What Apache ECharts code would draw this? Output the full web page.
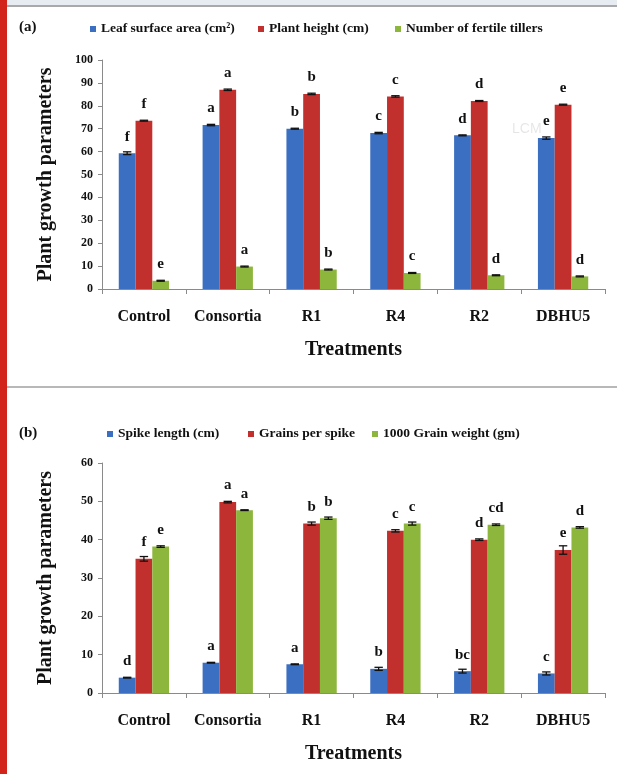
<!DOCTYPE html>
<html>
<head>
<meta charset="utf-8">
<script src="https://cdn.jsdelivr.net/npm/echarts@6/dist/echarts.min.js"></script>
<style>
  html, body { margin: 0; padding: 0; background: #fff; }
  #chart { width: 617px; height: 774px; }
</style>
</head>
<body>
<div id="chart"></div>
<script>
const treatments = ['Control', 'Consortia', 'R1', 'R4', 'R2', 'DBHU5'];

// panel (a)
const leafArea = [59.3, 71.6, 70.0, 68.1, 67.1, 65.9];
const leafAreaErr = [0.6, 0.3, 0.2, 0.3, 0.2, 0.5];
const leafAreaSig = ['f', 'a', 'b', 'c', 'd', 'e'];
const plantHeight = [73.5, 87.0, 85.2, 84.1, 82.1, 80.5];
const plantHeightErr = [0.2, 0.3, 0.3, 0.3, 0.2, 0.2];
const plantHeightSig = ['f', 'a', 'b', 'c', 'd', 'e'];
const tillers = [3.6, 9.8, 8.5, 7.0, 6.0, 5.5];
const tillersErr = [0.2, 0.2, 0.2, 0.2, 0.2, 0.2];
const tillersSig = ['e', 'a', 'b', 'c', 'd', 'd'];

// panel (b)
const spikeLength = [4.0, 7.9, 7.5, 6.3, 5.7, 5.1];
const spikeLengthErr = [0.1, 0.1, 0.1, 0.4, 0.5, 0.4];
const spikeLengthSig = ['d', 'a', 'a', 'b', 'bc', 'c'];
const grainsPerSpike = [35.0, 49.8, 44.2, 42.3, 40.0, 37.3];
const grainsPerSpikeErr = [0.6, 0.2, 0.4, 0.3, 0.2, 1.1];
const grainsPerSpikeSig = ['f', 'a', 'b', 'c', 'd', 'e'];
const grainWeight = [38.2, 47.7, 45.6, 44.2, 43.9, 43.2];
const grainWeightErr = [0.2, 0.1, 0.3, 0.4, 0.2, 0.2];
const grainWeightSig = ['e', 'a', 'b', 'c', 'cd', 'd'];

const serif = 'Liberation Serif';
const blue = '#3a6fc1';
const red = '#c2302d';
const green = '#8db63c';
const axisGray = '#8a8a8a';
const catGap = 0.4;

const chart = echarts.init(document.getElementById('chart'));

// 柱子 + 显著性字母
function barSeries(name, data, sig, color, gi) {
  return {
    name: name,
    type: 'bar',
    xAxisIndex: gi,
    yAxisIndex: gi,
    data: data,
    barGap: 0,
    barCategoryGap: catGap * 100 + '%',
    itemStyle: { color: color },
    label: {
      show: true,
      position: 'top',
      distance: 9,
      formatter: p => sig[p.dataIndex],
      fontFamily: serif,
      fontWeight: 'bold',
      fontSize: 15,
      color: '#111'
    },
    z: 2
  };
}

// 误差线
function errSeries(vals, errs, slot, gi) {
  return {
    type: 'custom',
    xAxisIndex: gi,
    yAxisIndex: gi,
    silent: true,
    z: 5,
    data: vals.map((v, i) => [i, v, errs[i]]),
    encode: { x: 0, y: 1 },
    renderItem: (params, api) => {
      const band = api.size([1, 0])[0];
      const bw = band * (1 - catGap) / 3;
      const cx = api.coord([api.value(0), 0])[0] + (slot - 1) * bw;
      const hi = api.coord([api.value(0), api.value(1) + api.value(2)])[1];
      const lo = api.coord([api.value(0), api.value(1) - api.value(2)])[1];
      const cap = bw * 0.25;
      const st = { stroke: '#111', lineWidth: 1.3 };
      return {
        type: 'group',
        children: [
          { type: 'line', shape: { x1: cx, y1: hi, x2: cx, y2: lo }, style: st },
          { type: 'line', shape: { x1: cx - cap, y1: hi, x2: cx + cap, y2: hi }, style: st },
          { type: 'line', shape: { x1: cx - cap, y1: lo, x2: cx + cap, y2: lo }, style: st }
        ]
      };
    }
  };
}

function legendItem(name, left, top) {
  return {
    left: left,
    top: top,
    padding: 0,
    icon: 'rect',
    itemWidth: 6,
    itemHeight: 6,
    data: [name],
    textStyle: { fontFamily: serif, fontWeight: 'bold', fontSize: 13.5, color: '#111' }
  };
}

function xAxis(gi) {
  return {
    type: 'category',
    gridIndex: gi,
    data: treatments,
    axisLine: { lineStyle: { color: axisGray } },
    axisTick: { show: true, length: 5, lineStyle: { color: axisGray } },
    axisLabel: { interval: 0, fontFamily: serif, fontWeight: 'bold', fontSize: 16, color: '#111', margin: 20 },
    name: 'Treatments',
    nameLocation: 'middle',
    nameGap: 51,
    nameTextStyle: { fontFamily: serif, fontWeight: 'bold', fontSize: 20, color: '#111' }
  };
}

function yAxis(gi, max) {
  return {
    type: 'value',
    gridIndex: gi,
    min: 0,
    max: max,
    interval: 10,
    splitLine: { show: false },
    axisLine: { show: true, lineStyle: { color: axisGray } },
    axisTick: { show: true, length: 4, lineStyle: { color: axisGray } },
    axisLabel: { fontFamily: serif, fontWeight: 'bold', fontSize: 12, color: '#111', margin: 9 },
    name: 'Plant growth parameters',
    nameLocation: 'middle',
    nameGap: 46,
    nameTextStyle: { fontFamily: serif, fontWeight: 'bold', fontSize: 20, color: '#111' }
  };
}

const option = {
  animation: false,
  backgroundColor: '#fff',
  title: [
    { text: '(a)', left: 19, top: 20, padding: 0, textStyle: { fontFamily: serif, fontWeight: 'bold', fontSize: 15, color: '#111' } },
    { text: '(b)', left: 19, top: 426, padding: 0, textStyle: { fontFamily: serif, fontWeight: 'bold', fontSize: 15, color: '#111' } }
  ],
  legend: [
    legendItem('Leaf surface area (cm²)', 90, 22),
    legendItem('Plant height (cm)', 258, 22),
    legendItem('Number of fertile tillers', 395, 22),
    legendItem('Spike length (cm)', 107, 427),
    legendItem('Grains per spike', 248, 427),
    legendItem('1000 Grain weight (gm)', 372, 427)
  ],
  grid: [
    { left: 102, right: 12, top: 60, height: 229 },
    { left: 102, right: 12, top: 463, height: 230 }
  ],
  xAxis: [xAxis(0), xAxis(1)],
  yAxis: [yAxis(0, 100), yAxis(1, 60)],
  graphic: [
    { type: 'rect', shape: { x: 0, y: 0, width: 7, height: 774 }, style: { fill: '#d3241b' }, silent: true },
    { type: 'rect', shape: { x: 7, y: 0, width: 610, height: 5 }, style: { fill: '#e6ecf2' }, silent: true },
    { type: 'rect', shape: { x: 7, y: 5, width: 610, height: 2 }, style: { fill: '#a9a9a9' }, silent: true },
    { type: 'rect', shape: { x: 7, y: 386, width: 610, height: 2 }, style: { fill: '#b8b8b8' }, silent: true },
    { type: 'text', left: 512, top: 122, style: { text: 'LCM', fill: 'rgba(0,0,0,0.1)', font: '14px Liberation Sans' }, silent: true }
  ],
  series: [
    barSeries('Leaf surface area (cm²)', leafArea, leafAreaSig, blue, 0),
    barSeries('Plant height (cm)', plantHeight, plantHeightSig, red, 0),
    barSeries('Number of fertile tillers', tillers, tillersSig, green, 0),
    errSeries(leafArea, leafAreaErr, 0, 0),
    errSeries(plantHeight, plantHeightErr, 1, 0),
    errSeries(tillers, tillersErr, 2, 0),
    barSeries('Spike length (cm)', spikeLength, spikeLengthSig, blue, 1),
    barSeries('Grains per spike', grainsPerSpike, grainsPerSpikeSig, red, 1),
    barSeries('1000 Grain weight (gm)', grainWeight, grainWeightSig, green, 1),
    errSeries(spikeLength, spikeLengthErr, 0, 1),
    errSeries(grainsPerSpike, grainsPerSpikeErr, 1, 1),
    errSeries(grainWeight, grainWeightErr, 2, 1)
  ]
};

chart.setOption(option);
</script>
</body>
</html>
